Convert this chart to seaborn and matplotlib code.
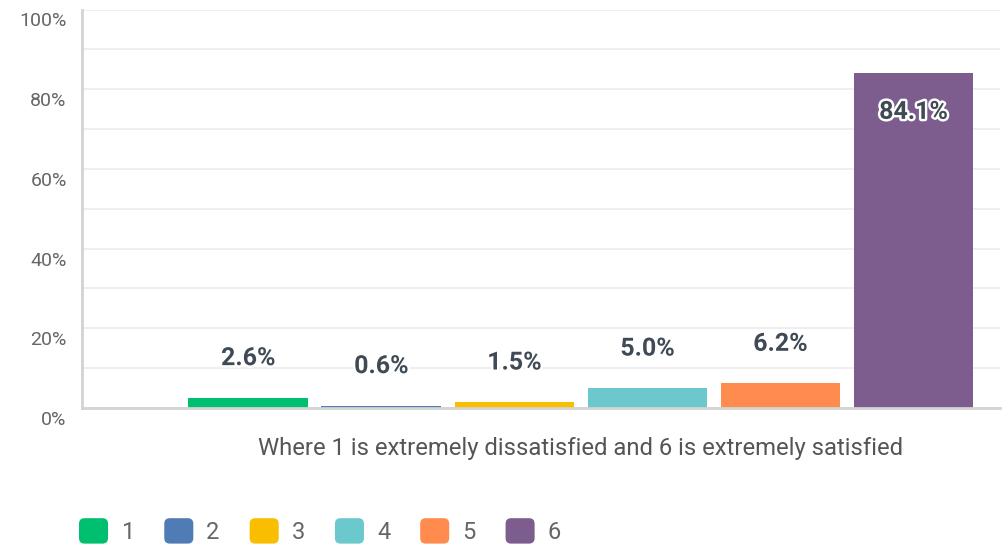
import matplotlib
matplotlib.use("Agg")
import matplotlib.pyplot as plt
import matplotlib.transforms as mtransforms
import matplotlib.patheffects as pe
from matplotlib.patches import FancyBboxPatch
from matplotlib.legend_handler import HandlerPatch
import seaborn as sns
import pandas as pd

# ---- data ----
question = "Where 1 is extremely dissatisfied and 6 is extremely satisfied"
ratings = ["1", "2", "3", "4", "5", "6"]
values = [2.6, 0.6, 1.5, 5.0, 6.2, 84.1]
colors = ["#00BF6F", "#507CB6", "#F9BE00", "#6BC8CD", "#FF8B4F", "#7D5C8E"]
y_ticks = [0, 20, 40, 60, 80, 100]
y_tick_labels = ["0%", "20%", "40%", "60%", "80%", "100%"]

df = pd.DataFrame({"question": [question] * len(ratings),
                   "rating": ratings, "value": values})

sns.set_theme(style="white")
plt.rcParams["font.family"] = ["Roboto", "DejaVu Sans"]

fig = plt.figure(figsize=(10.02, 5.48), dpi=100)
ax = fig.add_axes([82 / 1002, (548 - 408) / 548, 918 / 1002, 398.5 / 548])

sns.barplot(data=df, x="question", y="value", hue="rating", hue_order=ratings,
            palette=colors, width=0.8, gap=0.1, ax=ax, legend=False,
            saturation=1, edgecolor="none")

ax.set_xlim(-0.5, 0.42)
ax.set_ylim(0, 100)
ax.set_yticks(y_ticks)
ax.set_yticklabels(y_tick_labels)
ax.set_yticks(range(10, 100, 20), minor=True)
ax.grid(axis="y", which="both", color="#EBEBEB", linewidth=1.2, zorder=0)
ax.set_axisbelow(True)
ax.set_xlabel("")
ax.set_ylabel("")

for side in ["top", "right"]:
    ax.spines[side].set_visible(False)
for side in ["left", "bottom"]:
    ax.spines[side].set_color("#D3D3D3")
    ax.spines[side].set_linewidth(2)
    ax.spines[side].set_zorder(4)

ax.tick_params(axis="y", which="both", length=0, pad=11, labelsize=14,
               labelcolor="#666666")
ax.tick_params(axis="x", length=0, pad=21, labelsize=17.2, labelcolor="#555555")

offset = mtransforms.ScaledTranslation(0, -0.10, fig.dpi_scale_trans)
for lab in ax.get_yticklabels():
    lab.set_transform(lab.get_transform() + offset)

# value labels
halo = [pe.withStroke(linewidth=3.5, foreground="white")]
for cont in ax.containers:
    for bar in cont:
        h = bar.get_height()
        xc = bar.get_x() + bar.get_width() / 2
        dy = -39 if h > 50 else 39.5
        ax.annotate(f"{h:.1f}%", (xc, h), xytext=(0, dy),
                    textcoords="offset pixels", ha="center", va="center",
                    fontsize=18, fontweight="bold", color="#3F4A55",
                    path_effects=halo, zorder=5)


class RoundHandler(HandlerPatch):
    def create_artists(self, legend, orig_handle, xdescent, ydescent,
                       width, height, fontsize, trans):
        p = FancyBboxPatch((-xdescent, -ydescent), width, height,
                           boxstyle="round,pad=0,rounding_size=4",
                           facecolor=orig_handle.get_facecolor(),
                           edgecolor="none", transform=trans)
        return [p]


handles = [plt.Rectangle((0, 0), 1, 1, facecolor=c) for c in colors]
leg = fig.legend(handles, ratings, loc="center left",
                 bbox_to_anchor=(79 / 1002, 1 - 531 / 548), ncol=6,
                 frameon=False, fontsize=17, handlelength=1.23,
                 handleheight=1.28, handletextpad=0.55, columnspacing=1.27,
                 borderpad=0, borderaxespad=0,
                 handler_map={plt.Rectangle: RoundHandler()})
for t in leg.get_texts():
    t.set_color("#666666")

fig.savefig("out.png", dpi=100)
